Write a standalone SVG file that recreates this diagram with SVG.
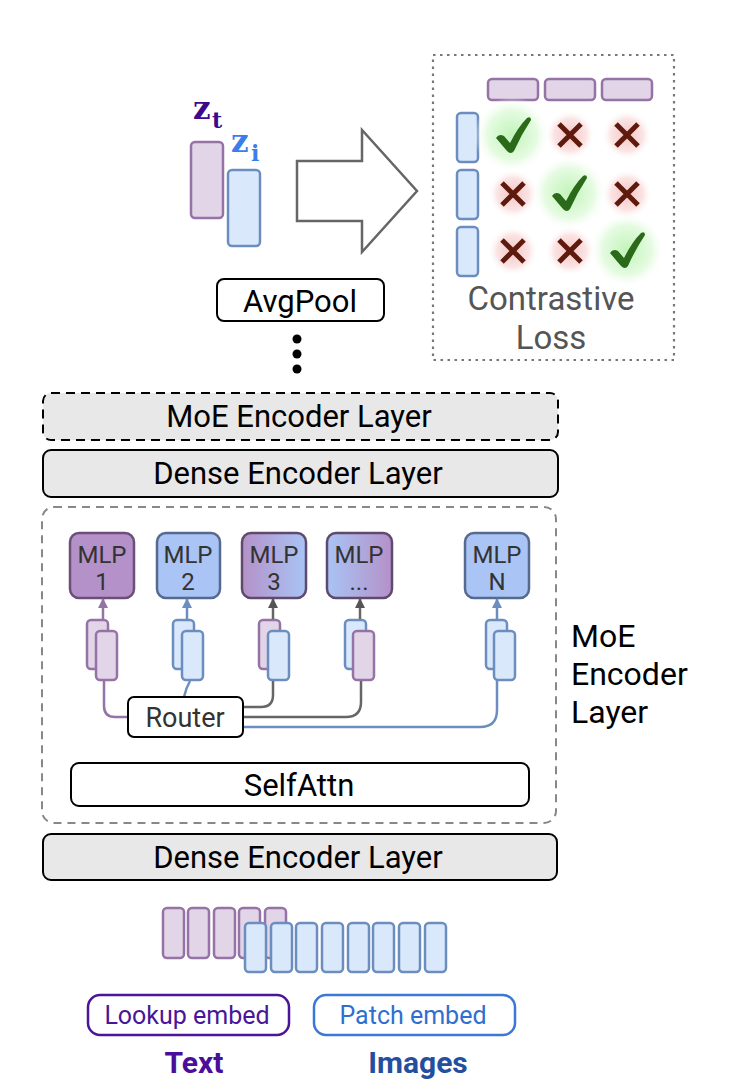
<svg xmlns="http://www.w3.org/2000/svg" width="742" height="1088" viewBox="0 0 742 1088">
<style>
.tp{fill:#e1d5e7;stroke:#9673a6;stroke-width:2.5}
.tb{fill:#dae8fc;stroke:#6c8ebf;stroke-width:2.5}
.layer{fill:#e8e8e8;stroke:#000;stroke-width:2}
.box{fill:#fff;stroke:#000;stroke-width:2}
.t{font-family:Roboto,"Liberation Sans",sans-serif;text-anchor:middle}
.big{font-size:31px;fill:#000}
.mlp{font-size:24px;fill:#333}
.chk{fill:#2b6a19}
.x{stroke:#5e1a0c;stroke-width:5}
.cp{fill:none;stroke:#9673a6;stroke-width:2.5}
.cb{fill:none;stroke:#6c8ebf;stroke-width:2.5}
.cg{fill:none;stroke:#666;stroke-width:2.5}
.z{font-family:"DejaVu Serif",serif;font-weight:bold}
</style>
<defs>
<radialGradient id="gg"><stop offset="0" stop-color="#c2f4b9"/><stop offset="0.65" stop-color="#e5fbe1"/><stop offset="1" stop-color="#ffffff" stop-opacity="0"/></radialGradient>
<radialGradient id="rg"><stop offset="0" stop-color="#f6c6c6"/><stop offset="0.65" stop-color="#fbe4e4"/><stop offset="1" stop-color="#ffffff" stop-opacity="0"/></radialGradient>
<linearGradient id="pb" x1="0" x2="1" y1="0" y2="0"><stop offset="0" stop-color="#b491c8"/><stop offset="1" stop-color="#a9c4f5"/></linearGradient>
<linearGradient id="bp" x1="0" x2="1" y1="0" y2="0"><stop offset="0" stop-color="#a9c4f5"/><stop offset="1" stop-color="#b491c8"/></linearGradient>
<marker id="ap" viewBox="0 0 10 10" refX="9" refY="5" markerWidth="10" markerHeight="10" markerUnits="userSpaceOnUse" orient="auto"><path d="M0,0 L10,5 L0,10 Z" fill="#9673a6"/></marker>
<marker id="ab" viewBox="0 0 10 10" refX="9" refY="5" markerWidth="10" markerHeight="10" markerUnits="userSpaceOnUse" orient="auto"><path d="M0,0 L10,5 L0,10 Z" fill="#6c8ebf"/></marker>
<marker id="ag" viewBox="0 0 10 10" refX="9" refY="5" markerWidth="10" markerHeight="10" markerUnits="userSpaceOnUse" orient="auto"><path d="M0,0 L10,5 L0,10 Z" fill="#555"/></marker>
</defs>
<rect width="742" height="1088" fill="#fff"/>

<g id="embeddings">
<text class="z" x="193" y="119" font-size="31" fill="#3d0a8c">z</text>
<text class="z" x="212" y="128" font-size="22" fill="#3d0a8c">t</text>
<text class="z" x="231" y="152" font-size="31" fill="#3b7de9">z</text>
<text class="z" x="251" y="161" font-size="22" fill="#3b7de9">i</text>
<rect class="tp" x="191" y="142" width="32" height="76" rx="4"/>
<rect class="tb" x="228" y="170" width="32" height="76" rx="4"/>
</g>

<g id="bigarrow">
<polygon points="297,161 362,161 362,130 417,191 362,252 362,221 297,221" fill="#fff" stroke="#666" stroke-width="2.5" stroke-linejoin="miter"/>
</g>

<g id="contrastive">
<rect x="433" y="55" width="241" height="305" fill="none" stroke="#777" stroke-width="2.2" stroke-dasharray="2.5 4.5"/>
<rect class="tp" x="488" y="79" width="50" height="21" rx="4"/>
<rect class="tp" x="545" y="79" width="50" height="21" rx="4"/>
<rect class="tp" x="602" y="79" width="50" height="21" rx="4"/>
<rect class="tb" x="457" y="113" width="21" height="49" rx="4"/>
<rect class="tb" x="457" y="170" width="21" height="49" rx="4"/>
<rect class="tb" x="457" y="227" width="21" height="49" rx="4"/>
<circle cx="512" cy="135" r="38" fill="url(#gg)"/>
<circle cx="569" cy="193" r="38" fill="url(#gg)"/>
<circle cx="627" cy="250" r="38" fill="url(#gg)"/>
<circle cx="570" cy="135" r="25" fill="url(#rg)"/>
<circle cx="627" cy="135" r="25" fill="url(#rg)"/>
<circle cx="513" cy="194" r="25" fill="url(#rg)"/>
<circle cx="627" cy="194" r="25" fill="url(#rg)"/>
<circle cx="513" cy="251" r="25" fill="url(#rg)"/>
<circle cx="570" cy="251" r="25" fill="url(#rg)"/>
<path class="chk" d="M496,138 Q499,133 504,136 L510,143 Q518,127 527,118 Q531,116 531,120 Q521,135 514,151 Q511,155 507,151 Z"/>
<path class="chk" d="M552,196 Q555,191 560,194 L566,201 Q574,185 583,176 Q587,174 587,178 Q577,193 570,209 Q567,213 563,209 Z"/>
<path class="chk" d="M610,253 Q613,248 618,251 L624,258 Q632,242 641,233 Q645,231 645,235 Q635,250 628,266 Q625,270 621,266 Z"/>
<path class="x" d="M559,124 L581,146 M581,124 L559,146"/>
<path class="x" d="M616,124 L638,146 M638,124 L616,146"/>
<path class="x" d="M502,183 L524,205 M524,183 L502,205"/>
<path class="x" d="M616,183 L638,205 M638,183 L616,205"/>
<path class="x" d="M502,240 L524,262 M524,240 L502,262"/>
<path class="x" d="M559,240 L581,262 M581,240 L559,262"/>
<text class="t" x="551" y="310" font-size="33" fill="#555">Contrastive</text>
<text class="t" x="551" y="349" font-size="33" fill="#555">Loss</text>
</g>

<g id="avgpool">
<rect class="box" x="217" y="279" width="167" height="42" rx="7"/>
<text class="t big" x="300" y="312" font-size="30">AvgPool</text>
</g>
<g id="dots">
<circle cx="297" cy="339" r="4.5" fill="#000"/>
<circle cx="297" cy="354" r="4.5" fill="#000"/>
<circle cx="297" cy="369" r="4.5" fill="#000"/>
</g>

<g id="moe-top">
<rect x="43" y="393" width="515" height="47" rx="8" fill="#e8e8e8" stroke="#000" stroke-width="2" stroke-dasharray="9 6"/>
<text class="t big" x="299" y="427">MoE Encoder Layer</text>
</g>
<g id="dense-top">
<rect class="layer" x="43" y="450" width="515" height="47" rx="8"/>
<text class="t big" x="298" y="484">Dense Encoder Layer</text>
</g>

<g id="moe-layer">
<rect x="42" y="507" width="514" height="316" rx="12" fill="none" stroke="#888" stroke-width="2" stroke-dasharray="8 6"/>
<text x="571" y="647" font-family="Roboto,'Liberation Sans',sans-serif" font-size="32" fill="#000">MoE</text>
<text x="571" y="685" font-family="Roboto,'Liberation Sans',sans-serif" font-size="32" fill="#000">Encoder</text>
<text x="571" y="723" font-family="Roboto,'Liberation Sans',sans-serif" font-size="32" fill="#000">Layer</text>
</g>

<g id="mlp1">
<rect x="70" y="533" width="64" height="65" rx="9" fill="#b491c8" stroke="#6b4f7a" stroke-width="2.5"/>
<text class="t mlp" x="102" y="563">MLP</text><text class="t mlp" x="102" y="590">1</text>
</g>
<g id="mlp2">
<rect x="157" y="533" width="63" height="65" rx="9" fill="#a9c4f5" stroke="#56698f" stroke-width="2.5"/>
<text class="t mlp" x="188" y="563">MLP</text><text class="t mlp" x="188" y="590">2</text>
</g>
<g id="mlp3">
<rect x="242" y="533" width="64" height="65" rx="9" fill="url(#pb)" stroke="#5f4a6e" stroke-width="2.5"/>
<text class="t mlp" x="274" y="563">MLP</text><text class="t mlp" x="274" y="590">3</text>
</g>
<g id="mlp-more">
<rect x="327" y="533" width="65" height="65" rx="9" fill="url(#bp)" stroke="#5f4a6e" stroke-width="2.5"/>
<text class="t mlp" x="359" y="563">MLP</text><text class="t mlp" x="359" y="590">...</text>
</g>
<g id="mlpN">
<rect x="465" y="533" width="64" height="65" rx="9" fill="#a9c4f5" stroke="#56698f" stroke-width="2.5"/>
<text class="t mlp" x="497" y="563">MLP</text><text class="t mlp" x="497" y="590">N</text>
</g>

<g id="routed-tokens">
<rect class="tp" x="87" y="620" width="21" height="49" rx="4"/>
<rect class="tp" x="96" y="631" width="21" height="49" rx="4"/>
<rect class="tb" x="173" y="620" width="21" height="49" rx="4"/>
<rect class="tb" x="182" y="631" width="21" height="49" rx="4"/>
<rect class="tp" x="259" y="620" width="21" height="49" rx="4"/>
<rect class="tb" x="268" y="631" width="21" height="49" rx="4"/>
<rect class="tb" x="345" y="620" width="21" height="49" rx="4"/>
<rect class="tp" x="353" y="631" width="21" height="49" rx="4"/>
<rect class="tb" x="486" y="620" width="21" height="49" rx="4"/>
<rect class="tb" x="494" y="631" width="21" height="49" rx="4"/>
</g>

<g id="connectors">
<path class="cp" d="M103,619 V599" marker-end="url(#ap)"/>
<path class="cb" d="M187,619 V599" marker-end="url(#ab)"/>
<path class="cg" d="M273,619 V599" stroke="#555" marker-end="url(#ag)"/>
<path class="cg" d="M360,619 V599" stroke="#555" marker-end="url(#ag)"/>
<path class="cb" d="M497,619 V599" marker-end="url(#ab)"/>
<path class="cp" d="M104,681 V706 Q104,717 115,717 H129"/>
<path class="cb" d="M184,697 Q186,688 190,681"/>
<path class="cg" d="M243,707 H261 Q273,707 273,695 V681"/>
<path class="cg" d="M243,717 H346 Q361,717 361,702 V681"/>
<path class="cb" d="M243,727 H480 Q497,727 497,710 V681"/>
</g>

<g id="router">
<rect class="box" x="128" y="697" width="115" height="40" rx="6"/>
<text class="t" x="185" y="727" font-size="27" fill="#333">Router</text>
</g>

<g id="selfattn">
<rect class="box" x="71" y="763" width="458" height="43" rx="8"/>
<text class="t big" x="299" y="796">SelfAttn</text>
</g>

<g id="dense-bottom">
<rect class="layer" x="43" y="834" width="514" height="46" rx="8"/>
<text class="t big" x="298" y="868">Dense Encoder Layer</text>
</g>

<g id="input-tokens">
<rect class="tp" x="163" y="908" width="21" height="50" rx="4"/>
<rect class="tp" x="188" y="908" width="21" height="50" rx="4"/>
<rect class="tp" x="214" y="908" width="21" height="50" rx="4"/>
<rect class="tp" x="239" y="908" width="21" height="50" rx="4"/>
<rect class="tp" x="265" y="908" width="21" height="50" rx="4"/>
<rect class="tb" x="245" y="923" width="21" height="49" rx="4"/>
<rect class="tb" x="271" y="923" width="21" height="49" rx="4"/>
<rect class="tb" x="296" y="923" width="21" height="49" rx="4"/>
<rect class="tb" x="322" y="923" width="21" height="49" rx="4"/>
<rect class="tb" x="348" y="923" width="21" height="49" rx="4"/>
<rect class="tb" x="373" y="923" width="21" height="49" rx="4"/>
<rect class="tb" x="399" y="923" width="21" height="49" rx="4"/>
<rect class="tb" x="425" y="923" width="21" height="49" rx="4"/>
</g>

<g id="lookup">
<rect x="88" y="995" width="201" height="40" rx="12" fill="#fff" stroke="#4a1598" stroke-width="2.5"/>
<text class="t" x="187" y="1024" font-size="25" fill="#4a1598">Lookup embed</text>
<text class="t" x="194" y="1073" font-size="30" font-weight="bold" fill="#4a0e9a">Text</text>
</g>
<g id="patch">
<rect x="314" y="995" width="201" height="40" rx="12" fill="#fff" stroke="#3a78d6" stroke-width="2.5"/>
<text class="t" x="413" y="1024" font-size="25" fill="#2f6fd0">Patch embed</text>
<text class="t" x="418" y="1073" font-size="30" font-weight="bold" fill="#234f9e">Images</text>
</g>
</svg>
